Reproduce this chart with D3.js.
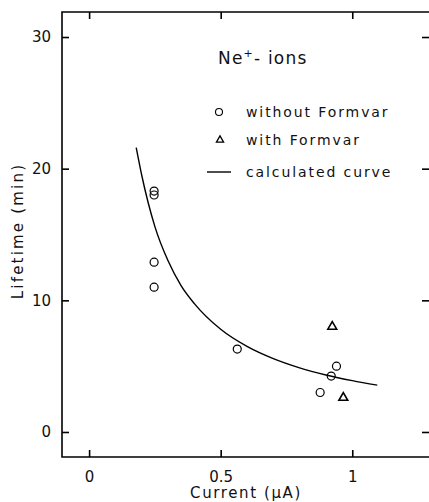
<!DOCTYPE html>
<html><head><meta charset="utf-8">
<script src="https://cdn.jsdelivr.net/npm/d3@7"></script>
<style>
html,body{margin:0;padding:0;background:#fff;}
svg{display:block;}
text{font-family:"DejaVu Sans",sans-serif;fill:#111;}
</style></head>
<body>
<script>
// Data
const withoutFormvarX = [0.247, 0.247, 0.247, 0.247, 0.563, 0.878, 0.92, 0.94];
const withoutFormvarY = [18.0, 18.3, 12.9, 11.0, 6.3, 3.0, 4.25, 5.0];
const withFormvarX = [0.924, 0.966];
const withFormvarY = [8.0, 2.6];
const curveX = [0.179, 0.2, 0.25, 0.3, 0.35, 0.4, 0.5, 0.6, 0.7, 0.8, 0.9, 1.0, 1.095];
const curveY = [21.6, 19.5, 15.6, 13.0, 11.1, 9.75, 7.8, 6.5, 5.57, 4.87, 4.33, 3.9, 3.56];
const xTicks = [0, 0.5, 1];
const xTickLabels = ["0", "0.5", "1"];
const yTicks = [0, 10, 20, 30];
const legendLabels = ["without Formvar", "with Formvar", "calculated curve"];

const W = 429, H = 502;
const L = 62, R = 432, T = 12, B = 457;
const svg = d3.select("body").append("svg").attr("width", W).attr("height", H);

const x = d3.scaleLinear().domain([-0.103, 1.303]).range([L, R]);
const y = d3.scaleLinear().domain([-1.9, 31.9]).range([B, T]);

// frame (top, left, bottom)
svg.append("path").attr("d", `M${R},${T}H${L}V${B}H${R}`)
  .attr("fill", "none").attr("stroke", "#000").attr("stroke-width", 1.6);

// axes with inward ticks
const xb = svg.append("g").attr("transform", `translate(0,${B})`)
  .call(d3.axisBottom(x).tickValues(xTicks).tickSizeInner(-7).tickSizeOuter(0).tickPadding(14)
    .tickFormat((d, i) => xTickLabels[i]));
const xt = svg.append("g").attr("transform", `translate(0,${T})`)
  .call(d3.axisTop(x).tickValues(xTicks).tickSizeInner(-7).tickSizeOuter(0).tickFormat(""));
const yl = svg.append("g").attr("transform", `translate(${L},0)`)
  .call(d3.axisLeft(y).tickValues(yTicks).tickSizeInner(-7).tickSizeOuter(0).tickPadding(11).tickFormat(d3.format("d")));
const yr = svg.append("g").attr("transform", `translate(${R},0)`)
  .call(d3.axisRight(y).tickValues(yTicks).tickSizeInner(-10).tickSizeOuter(0).tickFormat(""));
[xb, xt, yl, yr].forEach(g => {
  g.select(".domain").remove();
  g.selectAll(".tick line").attr("stroke", "#000").attr("stroke-width", 1.6);
  g.selectAll(".tick text").attr("font-size", 15).attr("fill", "#111")
    .attr("font-family", "'DejaVu Sans Condensed','DejaVu Sans',sans-serif");
});

// axis titles
svg.append("text").attr("x", 246).attr("y", 498).attr("text-anchor", "middle")
  .attr("font-size", 15).attr("letter-spacing", 1.6).text("Current (\u00B5A)");
svg.append("text").attr("transform", "translate(23,231) rotate(-90)").attr("text-anchor", "middle")
  .attr("font-size", 15).attr("letter-spacing", 2.2).text("Lifetime (min)");

// curve
const line = d3.line().x(d => x(d[0])).y(d => y(d[1])).curve(d3.curveMonotoneX);
svg.append("path").datum(curveX.map((v, i) => [v, curveY[i]]))
  .attr("d", line).attr("fill", "none").attr("stroke", "#000").attr("stroke-width", 1.4);

// circles
svg.selectAll("circle.wo").data(withoutFormvarX.map((v, i) => [v, withoutFormvarY[i]]))
  .enter().append("circle").attr("class", "wo")
  .attr("cx", d => x(d[0])).attr("cy", d => y(d[1])).attr("r", 4)
  .attr("fill", "none").attr("stroke", "#000").attr("stroke-width", 1.2);

// triangles
const tri = d3.symbol().type(d3.symbolTriangle).size(34);
svg.selectAll("path.w").data(withFormvarX.map((v, i) => [v, withFormvarY[i]]))
  .enter().append("path").attr("class", "w")
  .attr("transform", d => `translate(${x(d[0])},${y(d[1])})`)
  .attr("d", tri).attr("fill", "none").attr("stroke", "#000").attr("stroke-width", 1.6);

// legend
svg.append("text").attr("x", 218).attr("y", 64).attr("font-size", 17).attr("letter-spacing", 1.2)
  .html('Ne<tspan font-size="11" dy="-7">+</tspan><tspan dy="7">- ions</tspan>');
const lg = svg.append("g");
lg.append("circle").attr("cx", 219).attr("cy", 112).attr("r", 3.5)
  .attr("fill", "none").attr("stroke", "#000").attr("stroke-width", 1.1);
lg.append("path").attr("transform", "translate(220,140)").attr("d", d3.symbol().type(d3.symbolTriangle).size(22))
  .attr("fill", "none").attr("stroke", "#000").attr("stroke-width", 1.3);
lg.append("line").attr("x1", 207).attr("x2", 231).attr("y1", 172).attr("y2", 172)
  .attr("stroke", "#000").attr("stroke-width", 1.4);
legendLabels.forEach((t, i) => {
  lg.append("text").attr("x", 246).attr("y", [117, 145, 177][i]).attr("font-size", 14)
    .attr("letter-spacing", 1.9).text(t);
});
</script>
</body></html>
